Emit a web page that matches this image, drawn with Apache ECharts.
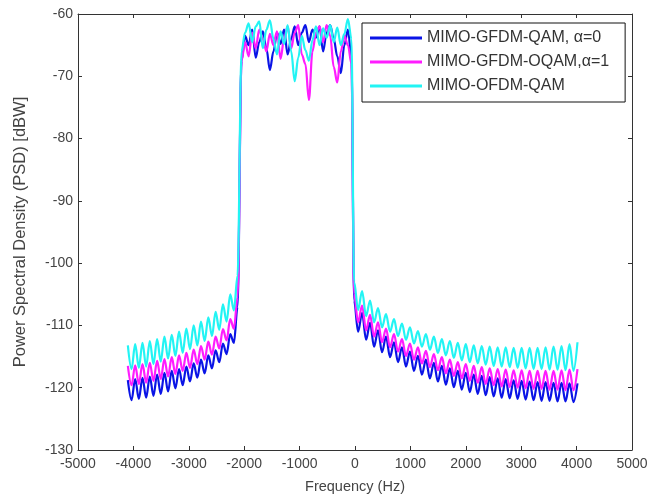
<!DOCTYPE html>
<html><head><meta charset="utf-8">
<script src="https://cdn.jsdelivr.net/npm/echarts@6/dist/echarts.min.js"></script>
<style>html,body{margin:0;padding:0;background:#fff}#c{width:662px;height:496px}</style>
</head><body><div id="c"></div>
<script>
// Frequency grids (Hz)
var freqLeft = [-4100,-4034,-3968,-3902,-3836,-3770,-3704,-3638,-3572,-3506,-3440,-3374,-3308,-3242,-3176,-3110,-3044,-2978,-2912,-2846,-2780,-2714,-2648,-2582,-2516,-2450,-2384,-2318,-2252,-2186,-2120];
var freqBand = [-2048,-1984,-1920,-1856,-1792,-1728,-1664,-1600,-1536,-1472,-1408,-1344,-1280,-1216,-1152,-1088,-1024,-960,-896,-832,-768,-704,-640,-576,-512,-448,-384,-320,-256,-192,-128,-64];
var freqRight = [-16,56,128,200,272,344,416,488,560,632,704,776,848,920,992,1064,1136,1208,1280,1352,1424,1496,1568,1640,1712,1784,1856,1928,2000,2072,2144,2216,2288,2360,2432,2504,2576,2648,2720,2792,2864,2936,3008,3080,3152,3224,3296,3368,3440,3512,3584,3656,3728,3800,3872,3944,4016];

// MIMO-GFDM-QAM, alpha=0 (blue)
var gfdmLeft = [-118.8,-122.0,-118.6,-121.8,-118.4,-121.6,-118.2,-121.3,-117.9,-121.0,-117.6,-120.6,-117.3,-120.1,-117.0,-119.6,-116.6,-119.0,-116.1,-118.4,-115.5,-117.7,-114.8,-116.9,-114.0,-115.9,-112.9,-114.6,-111.4,-112.8,-107.0];
var gfdmBand = [-67.5,-63.5,-65.0,-62.5,-67.0,-64.5,-62.8,-65.5,-69.0,-66.0,-63.0,-64.8,-62.5,-66.5,-64.0,-62.0,-65.0,-63.0,-61.8,-64.5,-62.5,-63.8,-62.0,-66.0,-63.0,-61.8,-64.0,-66.8,-69.5,-65.0,-62.5,-67.0];
var gfdmRight = [-106.0,-111.0,-108.0,-112.3,-109.6,-113.4,-110.8,-114.3,-111.8,-115.1,-112.7,-115.9,-113.5,-116.6,-114.2,-117.3,-114.9,-117.9,-115.5,-118.5,-116.0,-119.0,-116.5,-119.5,-116.9,-119.9,-117.3,-120.3,-117.6,-120.7,-117.9,-121.0,-118.1,-121.2,-118.3,-121.4,-118.5,-121.6,-118.6,-121.7,-118.8,-121.8,-118.9,-121.9,-119.0,-122.0,-119.1,-122.1,-119.1,-122.1,-119.2,-122.2,-119.2,-122.2,-119.3,-122.3,-119.3];

// MIMO-GFDM-OQAM, alpha=1 (magenta)
var oqamLeft = [-116.5,-119.6,-116.4,-119.4,-116.2,-119.2,-116.0,-118.9,-115.7,-118.6,-115.4,-118.2,-115.1,-117.8,-114.8,-117.3,-114.4,-116.8,-113.9,-116.2,-113.3,-115.5,-112.6,-114.7,-111.8,-113.7,-110.6,-112.4,-109.0,-110.5,-105.5];
var oqamBand = [-67.5,-64.5,-66.8,-63.0,-65.5,-62.5,-64.0,-66.0,-63.2,-65.0,-62.8,-67.2,-64.0,-62.0,-65.5,-63.0,-61.8,-66.5,-68.0,-73.8,-66.0,-63.0,-62.0,-64.5,-61.8,-63.5,-68.5,-71.0,-66.0,-63.5,-65.0,-68.0];
var oqamRight = [-105.0,-109.5,-106.8,-110.8,-108.3,-111.8,-109.5,-112.7,-110.5,-113.5,-111.4,-114.2,-112.2,-114.9,-112.9,-115.5,-113.5,-116.1,-114.1,-116.7,-114.6,-117.2,-115.1,-117.7,-115.5,-118.1,-115.9,-118.5,-116.2,-118.9,-116.5,-119.2,-116.7,-119.4,-116.9,-119.6,-117.0,-119.8,-117.1,-119.9,-117.2,-120.0,-117.2,-120.1,-117.3,-120.2,-117.3,-120.2,-117.3,-120.3,-117.3,-120.3,-117.2,-120.4,-117.1,-120.4,-117.0];

// MIMO-OFDM-QAM (cyan)
var ofdmLeft = [-113.2,-117.0,-113.0,-116.8,-112.8,-116.6,-112.5,-116.2,-112.2,-115.8,-111.8,-115.3,-111.5,-114.9,-111.0,-114.4,-110.5,-113.8,-110.0,-113.2,-109.4,-112.5,-108.7,-111.7,-107.8,-110.7,-106.6,-109.4,-105.0,-107.6,-102.0];
var ofdmBand = [-66.0,-63.0,-61.5,-64.5,-62.0,-61.2,-65.5,-62.5,-61.0,-64.0,-66.5,-62.8,-64.8,-61.8,-66.0,-70.8,-67.0,-63.5,-65.8,-67.5,-64.2,-62.0,-65.0,-62.3,-63.8,-61.8,-64.5,-62.2,-65.0,-63.2,-60.8,-64.0];
var ofdmRight = [-103.0,-107.5,-104.5,-108.5,-106.0,-109.5,-107.2,-110.3,-108.2,-111.0,-109.0,-111.7,-109.7,-112.3,-110.3,-112.9,-110.9,-113.4,-111.4,-113.9,-111.8,-114.4,-112.2,-114.8,-112.5,-115.2,-112.8,-115.6,-113.0,-115.9,-113.2,-116.1,-113.3,-116.3,-113.4,-116.5,-113.5,-116.6,-113.5,-116.7,-113.6,-116.8,-113.6,-116.9,-113.6,-117.0,-113.6,-117.0,-113.5,-117.1,-113.4,-117.1,-113.3,-117.2,-113.0,-117.3,-112.7];

var seriesNames = ['MIMO-GFDM-QAM, \u03b1=0', 'MIMO-GFDM-OQAM,\u03b1=1', 'MIMO-OFDM-QAM'];
var seriesColors = ['#0a14e6', '#ff1cff', '#22f4f4'];

var freqAll = freqLeft.concat(freqBand, freqRight);
function zip(a){ return freqAll.map(function(f,i){ return [f, a[i]]; }); }
var vals = [
  gfdmLeft.concat(gfdmBand, gfdmRight),
  oqamLeft.concat(oqamBand, oqamRight),
  ofdmLeft.concat(ofdmBand, ofdmRight)
];

var font = 'Liberation Sans, Arial, sans-serif';
var chart = echarts.init(document.getElementById('c'), null, {renderer:'canvas'});
var axisLine = {show:true, onZero:false, lineStyle:{color:'#333', width:1}};
var tick = {show:true, inside:true, length:4, lineStyle:{color:'#333'}};
function plain(v){ return String(v); }
chart.setOption({
  animation:false,
  backgroundColor:'#fff',
  grid:{left:78, right:30, top:14, bottom:46, containLabel:false, outerBoundsMode:'none'},
  legend:{
    orient:'vertical', left:362, top:23,
    itemWidth:52, itemHeight:3, itemGap:8, icon:'rect',
    padding:[7,16,8,8],
    backgroundColor:'#fff', borderColor:'#111', borderWidth:1,
    textStyle:{fontFamily:font, fontSize:16, lineHeight:14, color:'#333'},
    data:seriesNames
  },
  xAxis:[
    {type:'value', min:-5000, max:5000, interval:1000, position:'bottom',
     axisLine:axisLine, axisTick:tick, splitLine:{show:false},
     axisLabel:{fontFamily:font, fontSize:14, color:'#444', margin:7, formatter:plain},
     name:'Frequency (Hz)', nameLocation:'middle', nameGap:29,
     nameTextStyle:{fontFamily:font, fontSize:14.5, color:'#444'}},
    {type:'value', min:-5000, max:5000, interval:1000, position:'top',
     axisLine:axisLine, axisTick:tick, splitLine:{show:false}, axisLabel:{show:false}}
  ],
  yAxis:[
    {type:'value', min:-130, max:-60, interval:10, position:'left',
     axisLine:axisLine, axisTick:tick, splitLine:{show:false},
     axisLabel:{fontFamily:font, fontSize:14, color:'#444', margin:5, formatter:plain},
     name:'Power Spectral Density (PSD) [dBW]', nameLocation:'middle', nameGap:49, nameRotate:90,
     nameTextStyle:{fontFamily:font, fontSize:16.5, color:'#444'}},
    {type:'value', min:-130, max:-60, interval:10, position:'right',
     axisLine:axisLine, axisTick:tick, splitLine:{show:false}, axisLabel:{show:false}}
  ],
  series: vals.map(function(v,i){
    return {
      name:seriesNames[i], type:'line', data:zip(v), xAxisIndex:0, yAxisIndex:0,
      showSymbol:false, symbol:'none', smooth:0.35, smoothMonotone:'x',
      lineStyle:{color:seriesColors[i], width:2.2},
      itemStyle:{color:seriesColors[i]},
      z:2+i
    };
  })
});
</script>
</body></html>
